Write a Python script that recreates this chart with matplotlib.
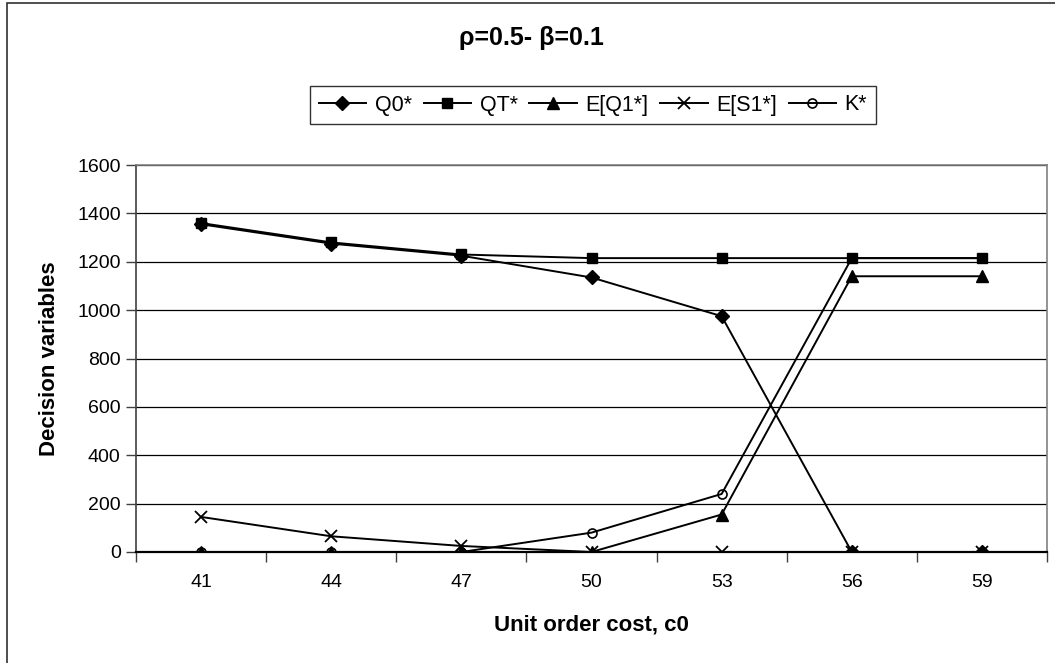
import matplotlib
matplotlib.use("Agg")
import matplotlib.pyplot as plt
from matplotlib.patches import Rectangle

plt.rcParams['font.family'] = ['Liberation Sans', 'DejaVu Sans']

# data
cost = ['41', '44', '47', '50', '53', '56', '59']
q0 = [1355, 1275, 1225, 1135, 975, 0, 0]
qt = [1360, 1280, 1230, 1215, 1215, 1215, 1215]
eq1 = [0, 0, 0, 0, 155, 1140, 1140]
es1 = [145, 65, 25, 0, 0, 0, 0]
k = [0, 0, 0, 80, 240, 1215, 1215]

W, H = 1055, 663
fig = plt.figure(figsize=(W / 100, H / 100), dpi=100)
# plot area in pixels: x 136..1047, y 165..552
ax = fig.add_axes([136 / W, 1 - 552 / H, (1047 - 136) / W, (552 - 165) / H])

# chart area frame (cut off right / bottom like the original)
fig.patches.append(Rectangle((7 / W, -0.05), 1.1, 1 - 3 / H + 0.05, transform=fig.transFigure,
                             fill=False, edgecolor='#303030', linewidth=1.2))

x = list(range(len(cost)))
lw = 1.4
ax.plot(x, q0, color='black', lw=lw, marker='D', ms=7.5, label='Q0*', zorder=3)
ax.plot(x, qt, color='black', lw=lw, marker='s', ms=7.5, label='QT*', zorder=3)
ax.plot(x, eq1, color='black', lw=lw, marker='^', ms=9, label='E[Q1*]', zorder=3)
ax.plot(x, es1, color='black', lw=lw, marker='x', ms=8.5, mew=1.3, label='E[S1*]', zorder=3)
ax.plot(x, k, color='black', lw=lw, marker='o', ms=6.5, mfc='none', mew=1.2, label='K*', zorder=3)

ax.set_xlim(-0.5, len(cost) - 0.5)
ax.set_ylim(0, 1600)
ax.set_yticks(range(0, 1601, 200))
ax.set_xticks(x)
ax.set_xticklabels(cost)
ax.set_xticks([i - 0.5 for i in range(len(cost) + 1)], minor=True)
ax.tick_params(axis='x', which='major', length=0, pad=16, labelsize=14)
ax.tick_params(axis='x', which='minor', length=7, width=1, color='#404040', direction='out')
ax.tick_params(axis='y', length=7, width=1, color='#404040', direction='out', pad=4, labelsize=14)

ax.grid(axis='y', color='black', lw=0.9)
ax.set_axisbelow(True)
for s in ['top', 'right']:
    ax.spines[s].set_color('#808080')
    ax.spines[s].set_linewidth(1.2)
ax.spines['left'].set_color('#404040')
ax.spines['left'].set_linewidth(1.2)
ax.spines['bottom'].set_color('black')
ax.spines['bottom'].set_linewidth(1.6)

ax.set_xlabel('Unit order cost, c0', fontsize=16, fontweight='bold', labelpad=17)
ax.set_ylabel('Decision variables', fontsize=16, fontweight='bold', labelpad=12)

fig.text(531 / W, 1 - 38 / H, 'ρ=0.5- β=0.1', ha='center', va='center', fontsize=18, fontweight='bold')

leg = ax.legend(loc='center', bbox_to_anchor=(593 / W, 1 - 105 / H), bbox_transform=fig.transFigure,
                ncol=5, frameon=True, fancybox=False, fontsize=15.5, handlelength=2.2,
                handletextpad=0.4, columnspacing=0.55, borderpad=0.4, edgecolor='black')
leg.get_frame().set_linewidth(1.0)

fig.savefig('out.png', dpi=100)
